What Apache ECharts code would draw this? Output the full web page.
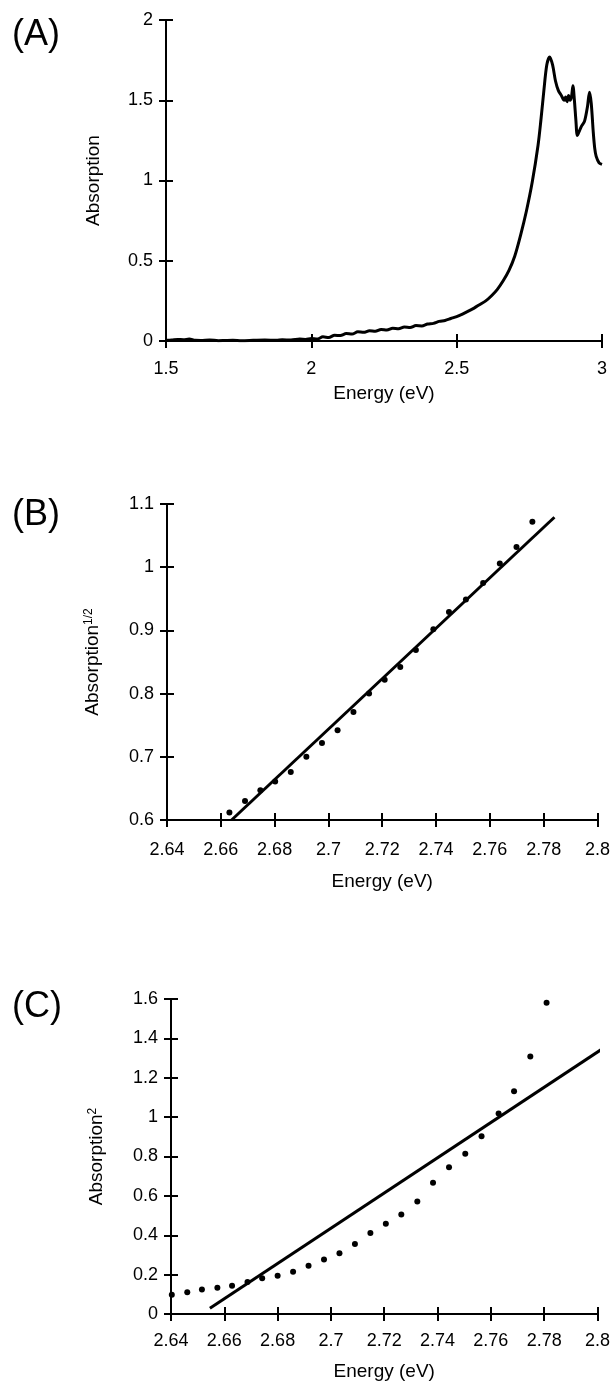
<!DOCTYPE html>
<html>
<head>
    <meta charset="utf-8">
    <title>Absorption edge</title>
    <script src="https://cdn.jsdelivr.net/npm/echarts@6/dist/echarts.min.js"></script>
    <style>
        html, body { margin: 0; padding: 0; background: #fff; }
        #main { width: 613px; height: 1382px; }
    </style>
</head>
<body>
    <div id="main"></div>
    <script>
        // panel A: absorption spectrum
        var energyA = [1.5, 1.52, 1.54, 1.56, 1.58, 1.6, 1.62, 1.65, 1.68, 1.7, 1.73, 1.76, 1.8, 1.84, 1.88, 1.9, 1.93, 1.96, 1.98,
            2.0, 2.02, 2.04, 2.06, 2.08, 2.1, 2.12, 2.14, 2.16, 2.18, 2.2, 2.22, 2.24, 2.26, 2.28, 2.3, 2.32, 2.34, 2.36, 2.38,
            2.4, 2.42, 2.44, 2.46, 2.48, 2.5, 2.52, 2.54, 2.56, 2.58, 2.6, 2.62, 2.64, 2.66, 2.68, 2.7, 2.72, 2.74, 2.76, 2.78,
            2.79, 2.8, 2.81, 2.82, 2.83, 2.84, 2.85, 2.86, 2.87, 2.875, 2.88, 2.885, 2.89, 2.895, 2.9, 2.905, 2.91, 2.915, 2.92,
            2.93, 2.94, 2.95, 2.957, 2.963, 2.97, 2.975, 2.98, 2.99, 3.0];
        var absA = [0.004, 0.006, 0.010, 0.008, 0.012, 0.004, 0.003, 0.006, 0.002, 0.003, 0.005, 0.002, 0.004, 0.006, 0.004, 0.008, 0.006, 0.012, 0.010,
            0.016, 0.012, 0.026, 0.022, 0.036, 0.034, 0.046, 0.043, 0.057, 0.054, 0.064, 0.060, 0.072, 0.068, 0.079, 0.076, 0.087, 0.084, 0.096, 0.094,
            0.106, 0.110, 0.122, 0.128, 0.140, 0.152, 0.168, 0.186, 0.205, 0.228, 0.250, 0.282, 0.322, 0.375, 0.44, 0.53, 0.66, 0.81, 0.99, 1.22,
            1.38, 1.56, 1.72, 1.77, 1.72, 1.62, 1.56, 1.53, 1.50, 1.52, 1.49, 1.53, 1.50, 1.52, 1.59, 1.50, 1.38, 1.28, 1.30,
            1.34, 1.37, 1.46, 1.55, 1.48, 1.30, 1.20, 1.15, 1.11, 1.10];

        // panel B: absorption^1/2
        var energyB = [2.6573, 2.6632, 2.6690, 2.6747, 2.6802, 2.6860, 2.6918, 2.6976, 2.7034, 2.7093, 2.7151,
            2.7209, 2.7267, 2.7325, 2.7390, 2.7448, 2.7511, 2.7575, 2.7637, 2.7699, 2.7758];
        var sqrtAbsB = [0.599, 0.612, 0.630, 0.647, 0.661, 0.676, 0.700, 0.722, 0.742, 0.771, 0.800,
            0.822, 0.842, 0.869, 0.902, 0.929, 0.949, 0.975, 1.006, 1.032, 1.072];
        var fitEnergyB = [2.664, 2.784];
        var fitB = [0.6, 1.079];

        // panel C: absorption^2
        var energyC = [2.6403, 2.6461, 2.6516, 2.6574, 2.6629, 2.6687, 2.6742, 2.6800, 2.6858, 2.6916, 2.6974, 2.7032, 2.7090,
            2.7148, 2.7206, 2.7264, 2.7324, 2.7383, 2.7443, 2.7504, 2.7565, 2.7629, 2.7687, 2.7748, 2.7809];
        var sqAbsC = [0.098, 0.110, 0.125, 0.133, 0.143, 0.162, 0.181, 0.194, 0.214, 0.245, 0.277, 0.309, 0.356,
            0.412, 0.459, 0.506, 0.572, 0.667, 0.746, 0.814, 0.903, 1.018, 1.131, 1.308, 1.581];
        var fitEnergyC = [2.6546, 2.81];
        var fitC = [0.029, 1.42];

        // tick values
        var ticksAx = [1.5, 2, 2.5, 3];
        var ticksAy = [0, 0.5, 1, 1.5, 2];
        var ticksBx = [2.64, 2.66, 2.68, 2.7, 2.72, 2.74, 2.76, 2.78, 2.8];
        var ticksBy = [0.6, 0.7, 0.8, 0.9, 1, 1.1];
        var ticksCx = [2.64, 2.66, 2.68, 2.7, 2.72, 2.74, 2.76, 2.78, 2.8];
        var ticksCy = [0, 0.2, 0.4, 0.6, 0.8, 1, 1.2, 1.4, 1.6];

        var FONT = '"Liberation Sans", Arial, Helvetica, sans-serif';

        function zip(xs, ys) {
            return xs.map(function (x, i) { return [x, ys[i]]; });
        }

        // one axis with outer ticks + labels, a second one with inner ticks -> ticks cross the axis line
        function axisPair(dim, grid, ticks, name, nameGap, labelMargin) {
            var step = Math.round((ticks[1] - ticks[0]) * 1e6) / 1e6;
            var base = {
                type: 'value',
                gridIndex: grid,
                min: ticks[0],
                max: ticks[ticks.length - 1],
                interval: step,
                position: dim === 'x' ? 'bottom' : 'left',
                splitLine: { show: false }
            };
            var outer = Object.assign({}, base, {
                name: name,
                nameLocation: 'middle',
                nameGap: nameGap,
                nameTextStyle: {
                    color: '#000', fontSize: 19, fontFamily: FONT,
                    rich: {
                        sup: { color: '#000', fontSize: 12, fontFamily: FONT, verticalAlign: 'top', lineHeight: 12 }
                    }
                },
                axisLine: { show: true, onZero: false, lineStyle: { color: '#000', width: 2 } },
                axisTick: { show: true, inside: false, length: 7, lineStyle: { color: '#000', width: 2 } },
                axisLabel: { show: true, margin: labelMargin, color: '#000', fontSize: 18, fontFamily: FONT, showMinLabel: true, showMaxLabel: true }
            });
            var inner = Object.assign({}, base, {
                axisLine: { show: false, onZero: false },
                axisTick: { show: true, inside: true, length: 7, lineStyle: { color: '#000', width: 2 } },
                axisLabel: { show: false }
            });
            return [outer, inner];
        }

        var xAxes = [].concat(
            axisPair('x', 0, ticksAx, 'Energy (eV)', 43, 19),
            axisPair('x', 1, ticksBx, 'Energy (eV)', 52, 21),
            axisPair('x', 2, ticksCx, 'Energy (eV)', 48, 18)
        );
        var yAxes = [].concat(
            axisPair('y', 0, ticksAy, 'Absorption', 63, 13),
            axisPair('y', 1, ticksBy, 'Absorption{sup|1/2}', 65, 13),
            axisPair('y', 2, ticksCy, 'Absorption{sup|2}', 65, 13)
        );

        var chart = echarts.init(document.getElementById('main'), null, { renderer: 'canvas' });
        var option = {
            animation: false,
            backgroundColor: '#fff',
            grid: [
                { left: 166, top: 20, width: 436, height: 321 },
                { left: 167, top: 504, width: 431, height: 316 },
                { left: 171, top: 999, width: 430, height: 316 }
            ],
            xAxis: xAxes,
            yAxis: yAxes,
            graphic: [
                { type: 'text', style: { text: '(A)', x: 12, y: 35, fill: '#000', fontSize: 36, fontFamily: FONT, verticalAlign: 'middle' } },
                { type: 'text', style: { text: '(B)', x: 12, y: 515, fill: '#000', fontSize: 36, fontFamily: FONT, verticalAlign: 'middle' } },
                { type: 'text', style: { text: '(C)', x: 12, y: 1007, fill: '#000', fontSize: 36, fontFamily: FONT, verticalAlign: 'middle' } }
            ],
            series: [
                {
                    type: 'line', xAxisIndex: 0, yAxisIndex: 0,
                    data: zip(energyA, absA),
                    showSymbol: false, smooth: 0.3,
                    lineStyle: { color: '#000', width: 3 }
                },
                {
                    type: 'scatter', xAxisIndex: 2, yAxisIndex: 2,
                    data: zip(energyB, sqrtAbsB),
                    symbolSize: 6, itemStyle: { color: '#000', opacity: 1 }
                },
                {
                    type: 'line', xAxisIndex: 2, yAxisIndex: 2,
                    data: zip(fitEnergyB, fitB),
                    showSymbol: false, clip: false,
                    lineStyle: { color: '#000', width: 3 }
                },
                {
                    type: 'scatter', xAxisIndex: 4, yAxisIndex: 4,
                    data: zip(energyC, sqAbsC),
                    symbolSize: 6, itemStyle: { color: '#000', opacity: 1 }
                },
                {
                    type: 'line', xAxisIndex: 4, yAxisIndex: 4,
                    data: zip(fitEnergyC, fitC),
                    showSymbol: false, clip: false,
                    lineStyle: { color: '#000', width: 3 }
                }
            ]
        };
        chart.setOption(option);
    </script>
</body>
</html>
